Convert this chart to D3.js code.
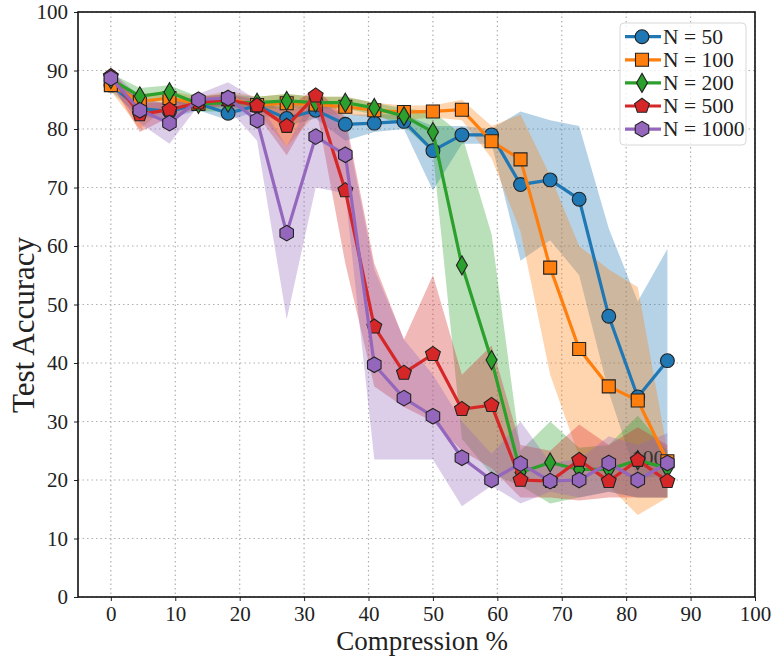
<!DOCTYPE html>
<html lang="en">
<head>
<meta charset="UTF-8">
<title>compression accuracy</title>
<script src="https://d3js.org/d3.v7.min.js"></script>
<style>
  body { margin: 0; background: #fff; }
  svg text { font-family: "Liberation Serif", "DejaVu Serif", serif; fill: #222; }
</style>
</head>
<body>
<script>
// compression levels (x)
var compression = [0, 4.5, 9.1, 13.6, 18.2, 22.7, 27.3, 31.8, 36.4, 40.9, 45.5, 50, 54.5, 59.1, 63.6, 68.2, 72.7, 77.3, 81.8, 86.4];

var labels = ["N = 50", "N = 100", "N = 200", "N = 500", "N = 1000"];

var mean50 = [87.5, 83.5, 83, 84.3, 82.7, 84, 81.8, 83.2, 80.8, 81, 81.3, 76.3, 79, 79, 70.5, 71.3, 68, 48, 34.2, 40.4];
var hi50   = [88.5, 85, 84.5, 85.5, 84, 85, 83, 84.5, 82.5, 82.5, 82.5, 80.5, 80.5, 80, 83, 81.5, 80.5, 63, 50.5, 59.5];
var lo50   = [86.5, 82, 81.8, 83.2, 81.5, 83, 80.5, 81.8, 78, 79.5, 80, 69.5, 77.5, 77.5, 57.5, 61, 55, 35, 20, 21];

var mean100 = [87.5, 84.7, 85.3, 84.3, 85.1, 84.1, 84.4, 84.2, 83.8, 83.2, 82.9, 83, 83.3, 77.9, 74.8, 56.3, 42.4, 36, 33.6, 23.2];
var hi100   = [88.5, 86, 86.5, 85.5, 86.5, 85.5, 86, 85.5, 85.5, 84.5, 84, 84, 85, 80.5, 82.5, 72, 60, 56, 53, 25];
var lo100   = [86.5, 80, 84, 83, 84, 83, 77, 82.5, 82.5, 82, 81.5, 82, 81.5, 75, 62.5, 38, 24, 19, 14, 17];

var mean200 = [88.5, 85.6, 86.3, 84.3, 84.5, 84.5, 84.8, 84.5, 84.5, 83.6, 82.2, 79.5, 56.7, 40.5, 21.3, 23, 21.8, 21.8, 23.4, 22];
var hi200   = [89.5, 87, 87.5, 85.5, 86, 85.5, 86, 85.5, 85.5, 84.5, 83.5, 83, 79, 62, 25, 30, 25.5, 26, 31, 25];
var lo200   = [87.5, 84.5, 85, 83, 83, 83.5, 83.5, 83.5, 83.5, 82.5, 80.5, 76, 27, 21, 19, 16, 17, 18, 17, 17];

var mean500 = [89, 82.5, 83.3, 84.5, 85, 84, 80.5, 85.7, 69.5, 46.2, 38.3, 41.5, 32.1, 32.8, 20, 19.8, 23.4, 19.8, 23.4, 19.8];
var hi500   = [90, 84.5, 84.5, 85.5, 86, 85, 83.5, 87, 82, 57, 44, 55, 38, 43, 26, 25, 29.5, 26, 29, 26];
var lo500   = [88, 79.5, 82, 83.5, 84, 82.5, 75.5, 84, 57, 36, 32.5, 30, 25, 22, 17, 17, 16.5, 17, 17, 17];

var mean1000 = [88.7, 83.2, 81, 85, 85.3, 81.5, 62.2, 78.7, 75.6, 39.7, 34, 30.9, 23.8, 20, 22.8, 19.8, 20, 22.9, 20, 22.9];
var hi1000   = [90, 85.5, 84, 86, 88, 85, 77, 86.5, 81, 56, 44, 38, 30, 24.5, 30, 23, 23.5, 27.5, 26, 28];
var lo1000   = [87.5, 81, 77.5, 84, 83.5, 78, 47.5, 70, 69, 23.5, 23.5, 23.5, 15.5, 19, 16, 18, 17, 18, 17, 17];

var xTicks = [0, 10, 20, 30, 40, 50, 60, 70, 80, 90, 100];
var yTicks = [0, 10, 20, 30, 40, 50, 60, 70, 80, 90, 100];

// stray text label sitting in the plot
var noteText = "100";
var noteAt = [83.4, 22.6];

var colors = ["#1f77b4", "#ff7f0e", "#2ca02c", "#d62728", "#9467bd"];
var shapes = ["circle", "square", "diamond", "pentagon", "hexagon"];

var series = [
  { mean: mean50, hi: hi50, lo: lo50 },
  { mean: mean100, hi: hi100, lo: lo100 },
  { mean: mean200, hi: hi200, lo: lo200 },
  { mean: mean500, hi: hi500, lo: lo500 },
  { mean: mean1000, hi: hi1000, lo: lo1000 }
];

var W = 776, H = 660;
var pLeft = 78, pRight = 755, pTop = 12, pBottom = 597;

var svg = d3.select("body").append("svg").attr("width", W).attr("height", H);

var x = d3.scaleLinear().domain([-5.1, 100]).range([pLeft, pRight]);
var y = d3.scaleLinear().domain([0, 100]).range([pBottom, pTop]);

// grid
svg.append("g").selectAll("line").data(xTicks).enter().append("line")
  .attr("x1", d => x(d)).attr("x2", d => x(d)).attr("y1", pTop).attr("y2", pBottom)
  .attr("stroke", "#b0b0b0").attr("stroke-width", 1.2).attr("stroke-dasharray", "1.5,3");
svg.append("g").selectAll("line").data(yTicks).enter().append("line")
  .attr("y1", d => y(d)).attr("y2", d => y(d)).attr("x1", pLeft).attr("x2", pRight)
  .attr("stroke", "#b0b0b0").attr("stroke-width", 1.2).attr("stroke-dasharray", "1.5,3");

// marker path
function markerPath(shape) {
  if (shape == "circle") return d3.symbol(d3.symbolCircle, 150)();
  if (shape == "square") return "M-6.5,-6.5L6.5,-6.5L6.5,6.5L-6.5,6.5Z";
  if (shape == "diamond") return "M0,-9.5L5.5,0L0,9.5L-5.5,0Z";
  var n = shape == "pentagon" ? 5 : 6;
  var r = 7.8;
  var pts = [];
  for (let k = 0; k < n; k++) {
    var a = -Math.PI / 2 + k * 2 * Math.PI / n;
    pts.push([r * Math.cos(a), r * Math.sin(a)]);
  }
  return "M" + pts.map(p => p[0].toFixed(2) + "," + p[1].toFixed(2)).join("L") + "Z";
}

var area = d3.area()
  .x((d, i) => x(compression[i]))
  .y0(d => y(d[0]))
  .y1(d => y(d[1]));

var line = d3.line()
  .x((d, i) => x(compression[i]))
  .y(d => y(d));

// bands
series.forEach(function (s, i) {
  var band = s.lo.map((v, j) => [v, s.hi[j]]);
  svg.append("path").attr("d", area(band)).attr("fill", colors[i]).attr("fill-opacity", 0.33);
});

svg.append("text").attr("x", x(noteAt[0])).attr("y", y(noteAt[1]))
  .attr("text-anchor", "middle").attr("font-size", 22).style("fill", "#333")
  .text(noteText);

// lines and markers
series.forEach(function (s, i) {
  svg.append("path").attr("d", line(s.mean)).attr("fill", "none")
    .attr("stroke", colors[i]).attr("stroke-width", 3.2).attr("stroke-linejoin", "round");
  svg.append("g").selectAll("path").data(s.mean).enter().append("path")
    .attr("d", markerPath(shapes[i]))
    .attr("transform", (d, j) => "translate(" + x(compression[j]) + "," + y(d) + ")")
    .attr("fill", colors[i]).attr("stroke", "#222").attr("stroke-width", 1.1);
});

// axes
var xAxis = svg.append("g").attr("transform", "translate(0," + pBottom + ")")
  .call(d3.axisBottom(x).tickValues(xTicks).tickSize(4).tickPadding(5));
var yAxis = svg.append("g").attr("transform", "translate(" + pLeft + ",0)")
  .call(d3.axisLeft(y).tickValues(yTicks).tickSize(4).tickPadding(6));
[xAxis, yAxis].forEach(function (a) {
  a.selectAll("text").attr("font-size", 21).style("font-family", "Liberation Serif, serif").style("fill", "#222");
  a.select(".domain").remove();
  a.selectAll("line").attr("stroke", "#222").attr("stroke-width", 1);
});

svg.append("rect").attr("x", pLeft).attr("y", pTop).attr("width", pRight - pLeft).attr("height", pBottom - pTop)
  .attr("fill", "none").attr("stroke", "#111").attr("stroke-width", 1.6);

svg.append("text").attr("x", 422).attr("y", 650).attr("text-anchor", "middle")
  .attr("font-size", 27).text("Compression %");
svg.append("text").attr("transform", "translate(34,325) rotate(-90)")
  .attr("text-anchor", "middle").attr("font-size", 31).text("Test Accuracy");

// legend
var lg = svg.append("g").attr("transform", "translate(620,23)");
lg.append("rect").attr("width", 126).attr("height", 122).attr("rx", 4)
  .attr("fill", "#fff").attr("fill-opacity", 0.8).attr("stroke", "#d8d8d8");
labels.forEach(function (lab, i) {
  var yy = 13.7 + i * 23.1;
  lg.append("line").attr("x1", 5).attr("x2", 41).attr("y1", yy).attr("y2", yy)
    .attr("stroke", colors[i]).attr("stroke-width", 3.2);
  lg.append("path").attr("d", markerPath(shapes[i])).attr("transform", "translate(22," + yy + ")")
    .attr("fill", colors[i]).attr("stroke", "#222").attr("stroke-width", 1.1);
  lg.append("text").attr("x", 43).attr("y", yy + 7).attr("font-size", 21.5).text(lab);
});
</script>
</body>
</html>
